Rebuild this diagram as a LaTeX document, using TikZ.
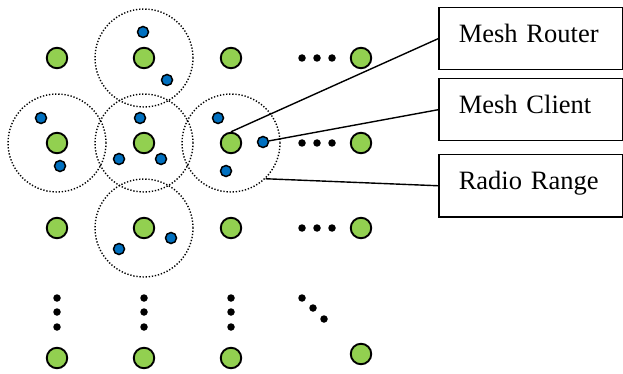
\documentclass[tikz,border=0pt]{standalone}
\usepackage{fontspec}
\setmainfont{Liberation Serif}
\definecolor{routergreen}{HTML}{92D050}
\definecolor{clientblue}{HTML}{0070C0}
\begin{document}
\begin{tikzpicture}[x=1pt,y=-1pt,
  routernode/.style={circle,draw=black,line width=1.9pt,fill=routergreen,minimum size=20.5pt,inner sep=0pt},
  clientnode/.style={circle,draw=black,line width=1.5pt,fill=clientblue,minimum size=11pt,inner sep=0pt},
  rangecirc/.style={circle,draw=black,line width=1.4pt,dash pattern=on 1.3pt off 1.8pt,minimum size=98pt,inner sep=0pt},
  edotnode/.style={circle,fill=black,minimum size=7.5pt,inner sep=0pt},
  legendbox/.style={draw=black,line width=1.5pt,minimum width=184pt,minimum height=62pt,
    inner xsep=20pt,text width=144pt,align=left,text height=18pt,text depth=10pt,
    font=\fontsize{26.5}{30}\selectfont,anchor=north west},
  leaderline/.style={draw=black,line width=1.4pt}]
\useasboundingbox (0,0) rectangle (623,374);
% radio ranges
\node[rangecirc] (c1) at (144,58) {};
\node[rangecirc] (c2) at (57,143) {};
\node[rangecirc] (c3) at (144,143) {};
\node[rangecirc] (c4) at (231,143) {};
\node[rangecirc] (c5) at (144,228) {};
% routers
\node[routernode] (g11) at (57,58) {};
\node[routernode] (g12) at (144,58) {};
\node[routernode] (g13) at (231,58) {};
\node[routernode] (g14) at (361,58) {};
\node[routernode] (g21) at (57,143) {};
\node[routernode] (g22) at (144,143) {};
\node[routernode] (g23) at (231,143) {};
\node[routernode] (g24) at (361,143) {};
\node[routernode] (g31) at (57,228) {};
\node[routernode] (g32) at (144,228) {};
\node[routernode] (g33) at (231,228) {};
\node[routernode] (g34) at (361,228) {};
\node[routernode] (g41) at (57,358) {};
\node[routernode] (g42) at (144,358) {};
\node[routernode] (g43) at (231,358) {};
\node[routernode] (g44) at (361,354) {};
% clients
\node[clientnode] (k1) at (143,32) {};
\node[clientnode] (k2) at (167,80) {};
\node[clientnode] (k3) at (41,118) {};
\node[clientnode] (k4) at (60,166) {};
\node[clientnode] (k5) at (140,118) {};
\node[clientnode] (k6) at (119,159) {};
\node[clientnode] (k7) at (161,159) {};
\node[clientnode] (k8) at (218,118) {};
\node[clientnode] (k9) at (263,142) {};
\node[clientnode] (k10) at (226,171) {};
\node[clientnode] (k11) at (171,238) {};
\node[clientnode] (k12) at (119,249) {};
% ellipsis dots
\foreach \r/\y in {1/58,2/143,3/228}{
  \node[edotnode] (h\r a) at (302,\y) {};
  \node[edotnode] (h\r b) at (317,\y) {};
  \node[edotnode] (h\r c) at (332,\y) {};
}
\foreach \c/\x in {1/57,2/144,3/231}{
  \node[edotnode] (v\c a) at (\x,298) {};
  \node[edotnode] (v\c b) at (\x,312) {};
  \node[edotnode] (v\c c) at (\x,327) {};
}
\node[edotnode] (da) at (302,298) {};
\node[edotnode] (db) at (313,308) {};
\node[edotnode] (dc) at (324,319) {};
% legend boxes
\node[legendbox] (b1) at (438,7) {Mesh Router};
\node[legendbox] (b2) at (438,78) {Mesh Client};
\node[legendbox] (b3) at (438,154) {Radio Range};
% leaders
\draw[leaderline] (g23.north) -- (b1.west);
\draw[leaderline] (k9) -- (b2.west);
\draw[leaderline] (c4.-46) -- (b3.west);
\end{tikzpicture}
\end{document}
